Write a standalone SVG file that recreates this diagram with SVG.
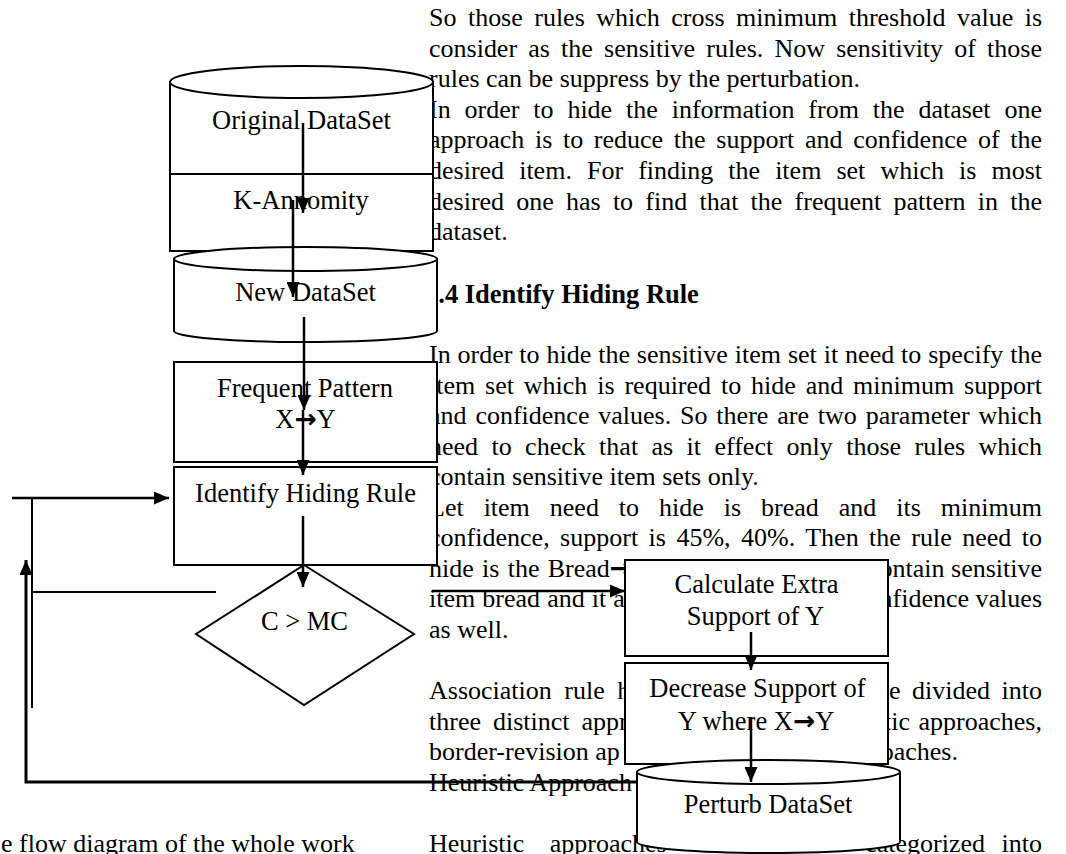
<svg xmlns="http://www.w3.org/2000/svg" width="1066" height="854" viewBox="0 0 1066 854">
<style>
.t{font-family:"Liberation Serif","Times New Roman",serif;font-size:26px;fill:#000}
.h{font-family:"Liberation Serif","Times New Roman",serif;font-size:26.5px;font-weight:bold;fill:#000}
.n{font-family:"Liberation Serif","Times New Roman",serif;font-size:26.5px;fill:#000;text-anchor:middle}
.ar{font-family:"DejaVu Sans",sans-serif;font-weight:bold}
.s{fill:#fff;stroke:#000;stroke-width:2}
.c{fill:none;stroke:#000;stroke-width:2.5}
.thin{fill:none;stroke:#000;stroke-width:2}
</style>
<defs>
<marker id="ah" markerUnits="userSpaceOnUse" markerWidth="15" markerHeight="13" refX="15" refY="6.5" orient="auto">
<path d="M0,0 L15,6.5 L0,13 Z" fill="#000"/>
</marker>
</defs>
<g id="page-text">
<text class="t" x="429" y="26" word-spacing="4.95" textLength="613" lengthAdjust="spacing">So those rules which cross minimum threshold value is</text>
<text class="t" x="429" y="56.6" word-spacing="4.68" textLength="613" lengthAdjust="spacing">consider as the sensitive rules. Now sensitivity of those</text>
<text class="t" x="429" y="87.2">rules can be suppress by the perturbation.</text>
<text class="t" x="429" y="117.8" word-spacing="7.38" textLength="613" lengthAdjust="spacing">In order to hide the information from the dataset one</text>
<text class="t" x="429" y="148.4" word-spacing="4.17" textLength="613" lengthAdjust="spacing">approach is to reduce the support and confidence of the</text>
<text class="t" x="429" y="179" word-spacing="8.57" textLength="613" lengthAdjust="spacing">desired item. For finding the item set which is most</text>
<text class="t" x="429" y="209.6" word-spacing="5.7" textLength="613" lengthAdjust="spacing">desired one has to find that the frequent pattern in the</text>
<text class="t" x="429" y="240.2">dataset.</text>
<text class="h" x="425" y="303">3.4 Identify Hiding Rule</text>
<text class="t" x="429" y="363" word-spacing="0.42" textLength="613" lengthAdjust="spacing">In order to hide the sensitive item set it need to specify the</text>
<text class="t" x="429" y="393.5" word-spacing="3.36" textLength="613" lengthAdjust="spacing">item set which is required to hide and minimum support</text>
<text class="t" x="429" y="424" word-spacing="2.35" textLength="613" lengthAdjust="spacing">and confidence values. So there are two parameter which</text>
<text class="t" x="429" y="454.5" word-spacing="6.86" textLength="613" lengthAdjust="spacing">need to check that as it effect only those rules which</text>
<text class="t" x="429" y="485">contain sensitive item sets only.</text>
<text class="t" x="429" y="515.5" word-spacing="13.47" textLength="613" lengthAdjust="spacing">Let item need to hide is bread and its minimum</text>
<text class="t" x="429" y="546" word-spacing="3.92" textLength="613" lengthAdjust="spacing">confidence, support is 45%, 40%. Then the rule need to</text>
<text class="t" x="429" y="576.5" word-spacing="1.8">hide is the Bread<tspan class="ar">→</tspan></text>
<text class="t" x="1042" y="576.5" text-anchor="end">contain sensitive</text>
<text class="t" x="429" y="607" word-spacing="0.6">item bread and it a</text>
<text class="t" x="1042" y="607" text-anchor="end">confidence values</text>
<text class="t" x="429" y="637.5">as well.</text>
<text class="t" x="429" y="699" word-spacing="6">Association rule h</text>
<text class="t" x="1042" y="699" text-anchor="end" word-spacing="5">be divided into</text>
<text class="t" x="429" y="729.5" word-spacing="5.5">three distinct appr</text>
<text class="t" x="1042" y="729.5" text-anchor="end" word-spacing="2">tic approaches,</text>
<text class="t" x="429" y="760">border-revision ap</text>
<text class="t" x="958" y="760" text-anchor="end">oaches.</text>
<text class="t" x="429" y="790.5">Heuristic Approach</text>
<text class="t" x="429" y="852" word-spacing="19">Heuristic approaches</text>
<text class="t" x="1042" y="852" text-anchor="end" word-spacing="10">categorized into</text>
<text class="t" x="1" y="852">e flow diagram of the whole work</text>
</g>
<g id="original-dataset">
<path class="s" d="M170,82 L170,251 L433,251 L433,82 Z"/>
<ellipse class="s" cx="301.5" cy="82" rx="131.5" ry="16"/>
<text class="n" x="301.5" y="129">Original DataSet</text>
</g>
<g id="k-anonymity">
<rect class="s" x="170" y="174" width="263" height="77"/>
<text class="n" x="301" y="209">K-Annomity</text>
</g>
<g id="new-dataset">
<path class="s" d="M174,259 L174,331 A131.5,11 0 0 0 437,331 L437,259 Z"/>
<ellipse class="s" cx="305.5" cy="259" rx="131.5" ry="12"/>
<text class="n" x="305.5" y="301">New DataSet</text>
</g>
<g id="frequent-pattern">
<rect class="s" x="174" y="362" width="263" height="100"/>
<text class="n" x="305" y="397">Frequent Pattern</text>
<text class="n" x="305.5" y="428">X<tspan class="ar">→</tspan>Y</text>
</g>
<g id="identify-hiding-rule">
<rect class="s" x="174" y="467" width="263" height="98"/>
<text class="n" x="305.5" y="502">Identify Hiding Rule</text>
</g>
<g id="decision">
<polygon class="s" points="304,565 414,634 304,705 196,634"/>
<text class="n" x="304.5" y="630">C &gt; MC</text>
</g>
<g id="calculate-extra">
<rect class="s" x="625" y="560" width="263" height="96"/>
<text class="n" x="756.5" y="593">Calculate Extra</text>
<text class="n" x="755.5" y="625">Support of Y</text>
</g>
<g id="decrease-support">
<rect class="s" x="625" y="663" width="263" height="101"/>
<text class="n" x="757.5" y="697">Decrease Support of</text>
<text class="n" x="756" y="730">Y where X<tspan class="ar">→</tspan>Y</text>
</g>
<g id="perturb-dataset">
<path class="s" d="M637,772 L637,842 A131.5,11 0 0 0 900,842 L900,772 Z"/>
<ellipse class="s" cx="768.5" cy="772" rx="131.5" ry="12"/>
<text class="n" x="768" y="813">Perturb DataSet</text>
</g>
<g id="connectors">
<path class="c" d="M303,123 L303,213" marker-end="url(#ah)"/>
<path class="c" d="M293,200 L293,297" marker-end="url(#ah)"/>
<path class="c" d="M304,317 L304,410" marker-end="url(#ah)"/>
<path class="c" d="M303,410 L303,475" marker-end="url(#ah)"/>
<path class="c" d="M303,516 L303,587" marker-end="url(#ah)"/>
<path class="c" d="M12,498 L169,498" marker-end="url(#ah)"/>
<path class="thin" d="M32,499 L32,708"/>
<path class="thin" d="M32,592 L216,592"/>
<path class="c" d="M432,591 L625,591" marker-end="url(#ah)"/>
<path class="c" d="M751,632 L751,670" marker-end="url(#ah)"/>
<path class="c" d="M751,717 L751,782" marker-end="url(#ah)"/>
<path class="c" style="stroke-width:3" d="M637,782 L26,782 L26,560" marker-end="url(#ah)"/>
</g>
</svg>
